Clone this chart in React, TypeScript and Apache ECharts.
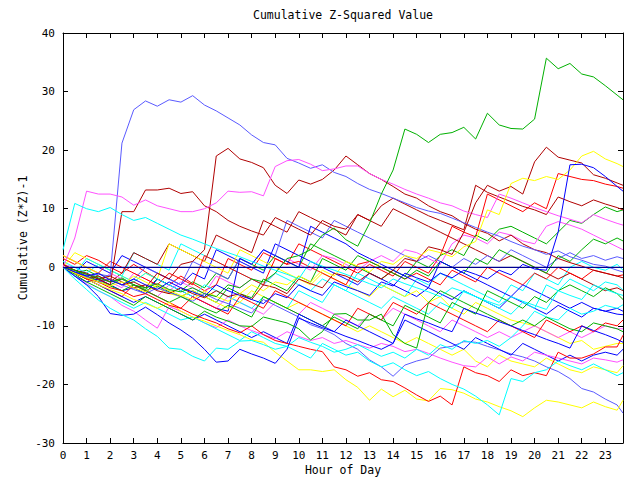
import React, { useEffect, useRef } from "react";
import * as echarts from "echarts";

const TITLE = "Cumulative Z-Squared Value";
const X_NAME = "Hour of Day";
const Y_NAME = "Cumulative (Z*Z)-1";

const HOURS = [
  0, 0.5, 1, 1.5, 2, 2.5, 3, 3.5, 4, 4.5, 5, 5.5, 6, 6.5, 7, 7.5, 8, 8.5, 9, 9.5,
  10, 10.5, 11, 11.5, 12, 12.5, 13, 13.5, 14, 14.5, 15, 15.5, 16, 16.5, 17, 17.5,
  18, 18.5, 19, 19.5, 20, 20.5, 21, 21.5, 22, 22.5, 23, 23.5, 23.75,
];

const RED = "#ff0000";
const GREEN = "#00b000";
const BLUE = "#0000ff";
const MAGENTA = "#ff50ff";
const CYAN = "#00ffff";
const DARKRED = "#b00000";
const YELLOW = "#ffff00";
const SLATE = "#5a5aff";
const NAVY = "#000090";

const slate1 = [0, -0.8, -1.5, -1.2, -1.5, 21.2, 26.9, 28.4, 27.5, 28.6, 28.2, 29.3, 27.7, 26.7, 25.5, 24.3, 22.6, 21.3, 20.9, 18.6, 17.8, 16.9, 17.5, 16.2, 15.5, 14.3, 13.3, 12.6, 11.8, 11, 10.2, 9.6, 9.2, 8.4, 7.6, 6.8, 6, 5.3, 4.4, 3.6, 3, 2.2, 2.8, 1.8, 1.2, 0.5, 0.2, -0.5, -0.8];
const green1 = [0, -0.5, -1.2, -1.8, -2.5, -2, -3, -3.5, -2.8, -3.8, -4.2, -3.5, -4.5, -5, -3, -3.5, -2, -2.5, -1, 1.5, 2, 3, 5.5, 6.7, 4.7, 3.6, 7.5, 12.5, 16.6, 23.6, 22.7, 21.3, 22.7, 23, 23.9, 21.9, 26.3, 24.3, 23.7, 23.6, 25.3, 35.7, 33.9, 34.8, 33, 32.5, 31, 29.4, 28.6];
const darkred1 = [0.5, -0.5, -1, -2, -1.5, -2.5, -3.5, -3, -4, -4.5, -3.5, -4.5, -5.2, -4, -5, -4.5, -5.5, -3, -3.5, -4.5, -2, -2.8, -3.5, -1, -1.5, -2.5, -1, -2, -0.5, 1.5, 1, 3.5, 3, 2.2, 6, 11, 14, 13, 13.8, 12.5, 18, 20.5, 18.8, 18.3, 17.8, 15.8, 15.2, 14.4, 14];
const darkred2 = [0, -0.5, -1.2, -2, -3, 9.5, 9.5, 13.2, 13.2, 13.5, 12.6, 12.9, 10.5, 9.5, 8, 7, 6.2, 5.5, 8.5, 7.5, 6.5, 5.5, 8, 7, 6.5, 9, 8, 10.5, 11.8, 10.8, 9.8, 8.8, 8, 7.2, 6.4, 14, 12.8, 12, 11.2, 10.4, 9.8, 9, 12, 11.2, 10.5, 11.5, 10.8, 10.2, 9.8];
const darkred3 = [0, -1, -1.5, -2.5, -2, -3, -2.5, -3.5, -1, -2, 0.5, 1, 3, 19, 20.3, 18.5, 17.9, 17, 14, 12.6, 14.9, 14.2, 15, 16.6, 19, 17.5, 16, 15, 13.8, 12.5, 11.8, 10.5, 9.5, 8.8, 7.5, 6.5, 5.8, 4.5, 5.5, 4, 3, 2.5, 1.5, 0.8, 0.2, -0.5, -1, -1.5, -1.8];
const magenta1 = [0, 5, 13, 12.5, 12.5, 12, 10.6, 11.5, 10.5, 10, 9.5, 9.5, 10, 11, 13, 12.8, 12.9, 12.2, 17.2, 18.2, 18.4, 17.6, 16.5, 16.8, 17.3, 17.3, 16, 15, 14.2, 13.3, 12.5, 11.8, 11, 10.5, 9.6, 9, 8.5, 12.5, 11.8, 11, 10.2, 9.5, 8.8, 8.2, 7.6, 9, 8.2, 7.5, 7.2];
const cyan2 = [3, 10.9, 10, 9.5, 10.2, 9, 8, 8.5, 7.5, 6.5, 5.5, 4.8, 4, 3.2, 2.5, 1.8, 1, 0.2, -0.5, -1.2, -2, 1, 0.2, -0.5, -1.2, -2, -2.8, -3.5, -2, -2.8, -3.5, -4.2, -5, -3.5, -4.2, -5, -5.8, -6.5, -5, -5.8, -6.5, -7.2, -4, -4.8, -5.5, -3, -3.8, -4.5, -4.8];
const yellow1 = [0, -1, -1.8, -2.5, -3.2, -2.5, -3.5, -4.2, -3, -4, -4.8, -5.5, -4, -5, -5.8, -4.5, -3, -4, -2.5, -3, -1.5, -2.5, -0.5, -1.5, 1, 0.2, -0.8, 1, 0.5, 2, 1.5, 3, 2.5, 1.8, 3.5, 4.4, 9.8, 9, 14.3, 15.2, 14.8, 15.5, 15, 16.6, 19, 19.8, 18.5, 17.7, 17.2];
const blue2 = [0, -0.8, -1.5, -1, -2.2, -3, -2, -3, -3.8, -2.5, -3.5, -4.2, -5, -3, -4, -4.8, -5.5, -6.2, -4.5, -5.2, -3, -4, -4.8, -2.5, -3.3, -4, -4.8, -2.5, -3.2, -1, -1.8, -2.5, -1, -1.8, -0.5, -1.2, -2, -0.5, -1.3, 0.5, -0.3, -0.5, 6, 17.5, 17.6, 17, 15.5, 13.8, 13];
const cyan1 = [0, -2, -3.8, -5.6, -7, -8.1, -9, -10.5, -11.8, -13.8, -14, -15.2, -16, -13.8, -14, -12.6, -12.5, -13.2, -14, -13.5, -14.5, -15.5, -13, -14, -15, -14.5, -16, -17, -16.3, -17.5, -18.5, -17.8, -19, -20, -20.8, -22, -23.5, -25.2, -19, -19.5, -18, -17.5, -16, -16.8, -17.5, -16.5, -17.5, -18.5, -18];
const blue1 = [0, -1.5, -3, -5, -7.9, -8.2, -8, -6.8, -8.1, -9.5, -10.7, -12.1, -14, -16.2, -16, -14, -14.8, -15.5, -16.4, -14, -8.7, -9.5, -10.3, -11, -11.8, -12.5, -13.3, -14, -13, -8, -8.8, -9.5, -10.3, -11, -7, -7.8, -8.5, -9.3, -10, -10.8, -11.5, -12.3, -13, -13.8, -10, -10.8, -11.5, -12.3, -12.8];
const yellow2 = [0, -1, -2, -3, -3.8, -4.5, -5.5, -6.2, -7, -6, -7.5, -8.5, -9.2, -10, -10.8, -11.5, -12.4, -12.8, -14.5, -16, -17.5, -17.5, -17.8, -17.5, -19.2, -20.5, -22.7, -20.8, -22.1, -21, -22.5, -22.8, -20.7, -20.9, -21.5, -22.5, -23, -23.8, -24.5, -25.5, -24, -22.7, -23, -23.5, -24, -23, -23.8, -24.4, -22.7];
const red3 = [0.5, -1, -2, -2.5, -3.5, -4, -5, -4.5, -5.5, -6.5, -7, -8, -8.8, -9.5, -10.5, -11.2, -10, -11.5, -12.5, -13, -13.5, -14, -14.4, -17, -17.5, -18.6, -18, -19.2, -19.5, -20.6, -21.8, -22.9, -22, -23.5, -17, -18, -18.5, -19.5, -17.5, -18.5, -18, -18.5, -14.5, -15.5, -15.5, -14.8, -13.6, -13.6, -11.6];
const slate2 = [0, -0.8, -1.6, -2.5, -2, -3, -3.8, -4.5, -3.5, -4.3, -5, -5.8, -4.5, -5.5, -6.2, -7, -7.8, -5.5, -6.5, -7.5, -8.5, -9.8, -10.5, -11.5, -13, -14, -15.8, -17, -18.6, -16.7, -16, -15.5, -13.8, -13.5, -12.7, -12.8, -13.5, -14.1, -14.8, -15.3, -16, -17, -17.8, -19, -20.7, -21.3, -22.5, -23.5, -24.9];
const magenta2 = [0, -1.5, -2.8, -4, -5, -6.5, -7.5, -9, -10.4, -6.7, -7.5, -8.5, -9.5, -10.3, -9, -10, -10.8, -11.5, -12.2, -11, -11.8, -12.5, -12, -13, -12.5, -13.2, -13.8, -13, -13.5, -14.4, -14, -14.7, -15.5, -16.2, -16.8, -17, -15.3, -16.5, -15.3, -16, -14.5, -15, -15.5, -16, -16.5, -15.5, -15.8, -16.2, -15.8];
const red1 = [1.5, 0.5, 2, 1.2, 0, -1, 0.5, -0.8, -2, -3, -1.5, -2.8, -4, -3, 1.5, 0.5, -0.5, 2.5, 1.5, 0.5, 4, 3, 2, 1, 0, -1, 0.5, -0.5, -1.5, 1, 0, -1, 2, 7, 6, 5.2, 12.5, 11.5, 10.5, 9.5, 11, 10, 16, 15.5, 15, 14.8, 14.2, 13.8, 13.5];
const green2 = [0, -1, -0.5, -1.5, -2.5, -1.8, -3, -3.8, -2, -3, -4, -2.5, -3.5, -1, -2, 1.5, 0.5, -0.5, 2, 1, 0, 4, 3, 2, 1, 0, -1, -2, -0.5, -1.5, 1, 0, 2, 3, 2, 5.5, 4.5, 6.5, 7, 6, 5, 4, 6, 8, 7.5, 9, 10.3, 9.5, 9.8];
const green3 = [0.5, -0.5, -1.5, -2.2, -3, -2, -3, -4, -3.2, -4.2, -5, -4, -5, -6, -3.5, -4.5, -5.2, -2, -3, -4, -1.5, -2.5, 1.5, 0.5, -0.5, 2, 1, 0, -1, -2, -0.5, -1.5, 1, 0, -1, 1.5, 0.5, 3, 2, 1, 0, -1, 2, 1, 3, 4.8, 4, 5, 4.5];
const green4 = [0, -1, -1.8, -2.5, -3.2, -4, -3, -4, -5, -6, -5, -6, -7, -7.8, -6.5, -7.5, -8.5, -5, -6, -7, -8, -9, -10, -8.5, -9.5, -10.5, -8, -9, -10, -6.5, -7.5, -8.5, -9.5, -6, -7, -8, -4, -5, -6, -7, -5, -6, -4, -3, -4, -5, -3.5, -4.5, -5.5];
const green5 = [0, -1.2, -2.5, -3.5, -4.5, -5.5, -6.5, -5, -6, -7, -8, -9, -7.5, -8.5, -9.2, -10, -10.1, -8.5, -9, -9.5, -10.5, -12.4, -11, -8, -7.9, -9, -9, -8, -11.5, -13, -13.8, -6, -4, -5, -6, -7, -8, -9, -10, -9, -10, -8.5, -9.5, -10.5, -11, -9.5, -10, -10.5, -11];
const cyan3 = [1, 0, -1, 0.5, -0.5, -1.5, 2.5, 1.5, 0.5, -0.5, 4, 3, 2, 1, 0, -1, -2, -3, -1, -2, -3, -4, -2, -3, -4, -1, -2, -3, -4, -5, -2, -3, -1, -2, -3, -4, -5, -6, -3, -4, -1, -2, -3, 0, 1, 0, -0.5, 0.5, -0.5];
const cyan4 = [0, -1.5, -3, -4, -5, -6, -7, -6, -7, -8, -9, -8.5, -9.5, -10.5, -11.5, -12.5, -11, -12, -13, -13.5, -12, -12.8, -13.5, -14.5, -14, -13.2, -14.2, -15.2, -14.5, -15.5, -14, -15, -13.2, -14, -12.5, -13, -12.5, -13.5, -12, -10, -7.5, -8.5, -9, -7, -8, -7.5, -6.5, -7, -6.4];
const blue3 = [0, -1, 1, 0, -1, 2, 1, 0, -1, -2, -3, -1, -2, 3, 2, 1, 0, -1, 4, 3, 2, 1, 0, -1, -2, -3, -1, -2, -3, -4, -5, -3.5, -4.5, -5.5, -4, -5, -6, -7, -5, -6, -7, -8, -6.5, -7.5, -8.5, -7, -7.5, -8, -8.1];
const blue4 = [0, -1.5, -2.5, -2, -3, -4, -3.5, -4.5, -2, -3, -4, -5, -6, -7, -7.5, 1.5, 0.5, 3, 2, 1, 0, 7, 6, 5, 4, 2.5, 1.5, 0.5, -0.5, -1.5, -2.5, -3.5, 1, 0, -1, -2, -3, -4, -5, -3, -4, -5, -6, -7, -6, -7, -7.5, -7, -7.5];
const magenta3 = [0.5, 0, -1, -2, -2.5, -3.5, -1, -2, -3, -4, -2.5, -3.5, -4.5, -1.5, -2.5, -3.5, -2, -3, -1, 1.5, 0.5, -0.5, 2, 1.5, 0.5, -0.5, 1, 2, 1, 3, 2.5, 1.5, 0.5, 4, 5.5, 5, 4, 6, 5.5, 4.5, 4, 7, 7.8, 7.2, 6.5, 5.5, 4.5, 3.5, 3];
const red2 = [2, 1, 0, -1, 1, 0, -1, -2, -3, -1, -2, -3, 2, 1, 0, -1, -2, -3, 1.5, 0.5, 1, 0, -1, -2, -3, 0.5, 1, 0, -1, -2, -1, -2, -3, -0.5, -1.5, -2.5, 0, -1, -2, -3, -1, -2, 0, -1, -2, -0.5, -1, -1.5, -1.3];
const red4 = [0, -1, -2, -3, -4, -5, -3, -4, -5, -6, -7, -5, -6, -7, -8, -5, -6, -7, -4, -5, -6, -7, -8, -9, -10, -7, -8, -9, -6, -7, -8, -6, -7, -8, -9, -10, -11, -9, -10, -11, -12, -9, -10, -11, -10, -11, -9.5, -10, -9];
const darkred4 = [0, -1, -2, -1.5, -2.5, -1, 2.5, 1.5, 0.5, 4, 3, 2, 1, 5.5, 4.5, 3.5, 2.5, 8, 7, 6, 9.5, 8.5, 7.5, 6.5, 5.5, 9, 8, 7, 10, 9, 8, 7, 6, 5, 4, 3, 2, 1, 2, 1, 0, -1, -2, -1, -2, -3, -4, -3.5, -4];
const yellow3 = [2, 1, 0, -1, -2, -3, -1.5, -2.5, -3.5, -4.5, -5, -4, -5, -6, -7, -6, -4, -5, -6, -7, -6, -7, -8, -9, -10, -11, -10, -11, -12, -13, -12, -13, -14, -15, -14, -16, -17, -15, -16, -16.5, -17, -15.5, -16.5, -17.5, -18, -17, -17.5, -18, -16.8];
const yellow4 = [0, 2.5, 1.5, 0.5, -0.5, -1.5, -2.5, -1, -2, 4, 3, 2, 1, 0, -1, 3, 2, 1, 0, -1, -2, -3, -1, -2, -3, -4, -5, -3, -4, -5, -4, -6, -5, -7, -8, -6, -7, -8, -9, -9.5, -10, -11, -12, -13, -12.5, -14, -13.5, -13, -13];
const slate3 = [0, -1, -2, -1, -2, -3, -2, 0, -1, -2, -3, 1, 0, -1, -2, 1.5, 0.5, 3, 2, 8, 7, 6, 5, 8, 7, 6, 5, 4, 3, 2, 1, 2, 1, 0, 1.5, 0.5, 2, 1, 3, 2, 1, 0, 1.5, 2.5, 1.5, 2, 1.2, 1.8, 1.5];
const blue5 = [0, -1, -2, -3, -4, -5, -6, -5, -6, -7, -8, -9, -8, -9, -10, -11, -12, -11, -12, -13, -8, -9, -10, -11, -9, -10, -11, -12, -13, -9, -10, -11, -12, -13, -14, -12, -13, -14, -15, -13, -14, -15, -16, -15, -16, -15, -14.5, -15, -14];
const magenta4 = [0, -1, -2, -3, -1, -2, -3, -4, -5, -3, -4, -5, -6, -7, -5, -6, -7, -8, -6, -7, -8, -6, -7, -8, -9, -10, -8, -9, -7, -8, -9, -10, -11, -9, -10, -11, -12, -11, -12, -11, -10, -11, -12, -11, -12, -11, -10, -10.5, -10.5];
const cyan5 = [0, -1, 1.5, 0.5, -0.5, -1.5, -2.5, -1, -2, -3, -4, -5, -3, -4, -5, -6, -7, -5, -6, -7, -4, -5, -6, -3, -4, -5, -6, -7, -5, -6, -7, -8, -6, -7, -4, -5, -6, -7, -8, -6, -7, -3, -4, -2, -3, -4, -2.5, -3, -3.9];
const zeroLine = [0, 0];
const ZERO_HOURS = [0, 23.75];

const SERIES: { values: number[]; color: string }[] = [
  { values: red1, color: RED },
  { values: green2, color: GREEN },
  { values: blue3, color: BLUE },
  { values: magenta3, color: MAGENTA },
  { values: cyan3, color: CYAN },
  { values: darkred4, color: DARKRED },
  { values: yellow4, color: YELLOW },
  { values: slate3, color: SLATE },
  { values: red2, color: RED },
  { values: green3, color: GREEN },
  { values: blue4, color: BLUE },
  { values: magenta4, color: MAGENTA },
  { values: cyan5, color: CYAN },
  { values: darkred3, color: DARKRED },
  { values: yellow3, color: YELLOW },
  { values: slate2, color: SLATE },
  { values: red4, color: RED },
  { values: green4, color: GREEN },
  { values: blue5, color: BLUE },
  { values: magenta2, color: MAGENTA },
  { values: cyan4, color: CYAN },
  { values: darkred2, color: DARKRED },
  { values: yellow2, color: YELLOW },
  { values: slate1, color: SLATE },
  { values: red3, color: RED },
  { values: green5, color: GREEN },
  { values: blue1, color: BLUE },
  { values: magenta1, color: MAGENTA },
  { values: cyan1, color: CYAN },
  { values: darkred1, color: DARKRED },
  { values: yellow1, color: YELLOW },
  { values: green1, color: GREEN },
  { values: blue2, color: BLUE },
  { values: cyan2, color: CYAN },
];

const FONT = "DejaVu Sans Mono";

export default function App() {
  const ref = useRef<HTMLDivElement>(null);
  useEffect(() => {
    if (!ref.current) return;
    const chart = echarts.init(ref.current, undefined, { renderer: "svg" });
    const axisCommon = {
      axisLine: { show: true, onZero: false, lineStyle: { color: "#000", width: 1 } },
      axisTick: { show: true, inside: true, length: 5, lineStyle: { color: "#000" } },
      splitLine: { show: false },
    };
    const lineSeries: any[] = SERIES.map((s, k) => ({
      type: "line",
      name: "s" + k,
      data: HOURS.map((h, i) => [h, s.values[i]]),
      showSymbol: false,
      symbol: "none",
      silent: true,
      lineStyle: { width: 1, color: s.color },
      itemStyle: { color: s.color },
    }));
    lineSeries.push({
      type: "line",
      name: "zero",
      data: ZERO_HOURS.map((h, i) => [h, zeroLine[i]]),
      showSymbol: false,
      symbol: "none",
      silent: true,
      z: 5,
      lineStyle: { width: 1.2, color: NAVY },
    });
    chart.setOption({
      animation: false,
      backgroundColor: "#ffffff",
      grid: { left: 63, right: 17, top: 33, bottom: 37, containLabel: false },
      xAxis: [
        {
          type: "value",
          min: 0,
          max: 23.75,
          interval: 1,
          position: "bottom",
          ...axisCommon,
          axisLabel: {
            show: true,
            margin: 7,
            color: "#000",
            fontFamily: FONT,
            fontSize: 11,
            showMaxLabel: false,
            formatter: (v: number) => (Number.isInteger(v) ? String(v) : ""),
          },
        },
        {
          type: "value",
          min: 0,
          max: 23.75,
          interval: 1,
          position: "top",
          ...axisCommon,
          axisLabel: { show: false },
        },
      ],
      yAxis: [
        {
          type: "value",
          min: -30,
          max: 40,
          interval: 10,
          position: "left",
          ...axisCommon,
          axisLabel: { show: true, margin: 8, color: "#000", fontFamily: FONT, fontSize: 11 },
        },
        {
          type: "value",
          min: -30,
          max: 40,
          interval: 10,
          position: "right",
          ...axisCommon,
          axisLabel: { show: false },
        },
      ],
      graphic: [
        {
          type: "text",
          x: 343,
          y: 15,
          style: { text: TITLE, fill: "#000", font: `11.5px '${FONT}'`, align: "center", verticalAlign: "middle" },
        },
        {
          type: "text",
          x: 343,
          y: 470,
          style: { text: X_NAME, fill: "#000", font: `11.5px '${FONT}'`, align: "center", verticalAlign: "middle" },
        },
        {
          type: "text",
          x: 23,
          y: 238,
          rotation: Math.PI / 2,
          style: { text: Y_NAME, fill: "#000", font: `11.5px '${FONT}'`, align: "center", verticalAlign: "middle" },
        },
      ],
      series: lineSeries,
    });
    return () => chart.dispose();
  }, []);
  return (
    <div
      ref={ref}
      style={{ position: "fixed", left: 0, top: 0, width: 640, height: 480, background: "#fff" }}
    />
  );
}
